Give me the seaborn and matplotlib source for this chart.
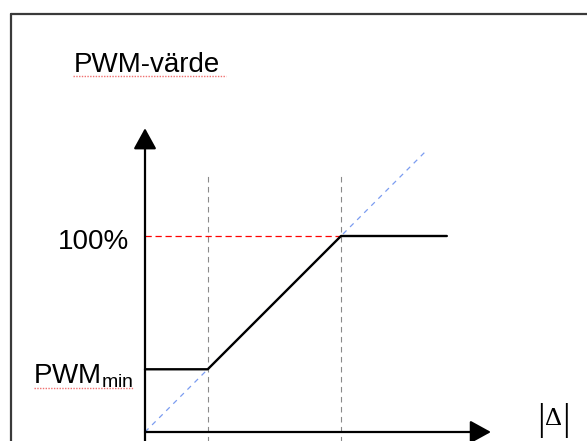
"""PWM value as a function of |delta|: dead zone, linear ramp, saturation"""
import matplotlib
matplotlib.use("Agg")
import matplotlib.pyplot as plt
from matplotlib.lines import Line2D
import seaborn as sns

# characteristic curve (x = |delta|, y = PWM in %)
DELTA = [0, 32, 100, 154]
PWM = [32, 32, 100, 100]
PWM_MIN = 32
PWM_MAX = 100
DELTA_KNEES = [32, 100]
IDENTITY = [0, 144]

AX_X_END = 176.5
AX_Y_END = 155


def plot_pwm():
    sns.set_style("white")
    plt.rcParams['font.family'] = ['Liberation Sans', 'DejaVu Sans']
    plt.rcParams['mathtext.default'] = 'regular'
    plt.rcParams['text.color'] = 'black'

    fig = plt.figure(figsize=(5.87, 4.41), dpi=100)
    ax = fig.add_axes([0, 0, 1, 1])
    ax.set_axis_off()
    # 1.96 px per unit, origin at pixel (145, 432)
    ax.set_xlim(-145 / 1.96, (587 - 145) / 1.96)
    ax.set_ylim(-9 / 1.96, 432 / 1.96)

    # outer frame (left and top edges, the rest is cut off)
    fig.add_artist(Line2D([11 / 587, 11 / 587], [-0.1, 1 - 14 / 441],
                          color="#3a3a3a", lw=1.6))
    fig.add_artist(Line2D([11 / 587, 1.1], [1 - 14 / 441, 1 - 14 / 441],
                          color="#3a3a3a", lw=1.6))

    # helper lines
    for d in DELTA_KNEES:
        ax.plot([d, d], [-10, 131], color="#8a8a8a", lw=0.8,
                linestyle=(0, (5, 4)))
    ax.plot([0, DELTA_KNEES[1]], [PWM_MAX, PWM_MAX], color="red", lw=0.9,
            linestyle=(0, (5, 3)))
    ax.plot(IDENTITY, IDENTITY, color="#7b9cf0", lw=0.9,
            linestyle=(0, (4, 4)))

    sns.lineplot(x=DELTA, y=PWM, color="black", linewidth=1.7, ax=ax)

    # axes with arrow heads
    arrow = dict(arrowstyle="-|>,head_length=0.4,head_width=0.22",
                 color="black", lw=1.6, mutation_scale=32,
                 shrinkA=0, shrinkB=0)
    ax.annotate("", xy=(0, AX_Y_END), xytext=(0, -4.6), arrowprops=arrow)
    ax.annotate("", xy=(AX_X_END, 0), xytext=(0, 0), arrowprops=arrow)

    # labels
    ax.text(-36.2, 183.7, "PWM-värde", fontsize=20, ha="left", va="baseline")
    ax.text(-8.2, 93.4, "100%", fontsize=20, ha="right", va="baseline")
    ax.text(-6.1, 25, r"PWM$_{min}$", fontsize=20, ha="right", va="baseline")
    ax.text(202, 6.1, "|", fontsize=27, family="Liberation Serif",
            ha="center", va="center")
    ax.text(208.5, 6.6, "Δ", fontsize=19, family="Liberation Serif",
            ha="center", va="center")
    ax.text(215, 6.1, "|", fontsize=27, family="Liberation Serif",
            ha="center", va="center")

    # spell-check underlines
    ax.plot([-36.5, 41.5], [181.6, 181.6], color="#f07070", lw=1.0,
            linestyle=(0, (1, 1)))
    ax.plot([-56.5, -5.5], [22.5, 22.5], color="#f07070", lw=1.0,
            linestyle=(0, (1, 1)))

    fig.savefig("out.png", dpi=100)


if __name__ == "__main__":
    plot_pwm()
